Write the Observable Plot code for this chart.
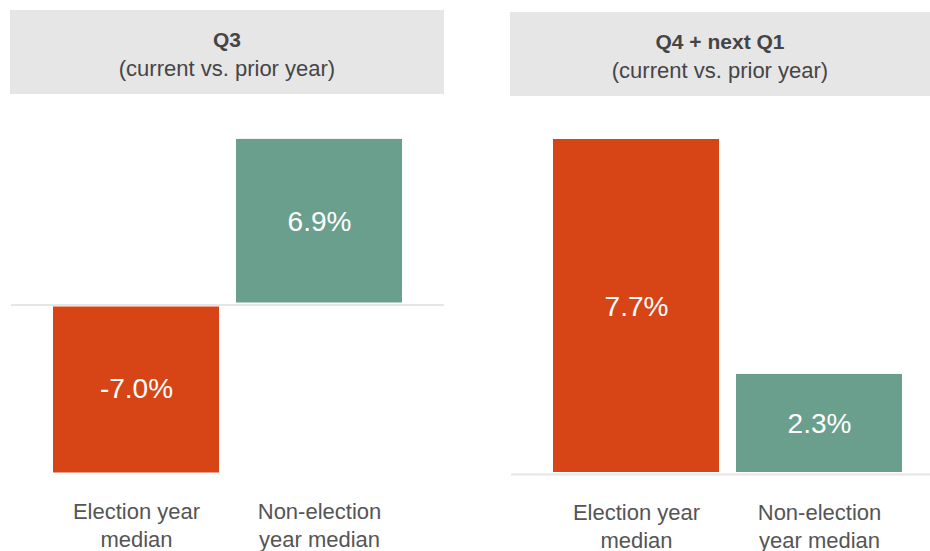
<!DOCTYPE html>
<html>
<head>
<meta charset="utf-8">
<script src="https://cdn.jsdelivr.net/npm/d3@7"></script>
<script src="https://cdn.jsdelivr.net/npm/@observablehq/plot@0.6"></script>
<style>
  html, body { margin: 0; padding: 0; background: #fff; }
  #root { position: relative; width: 930px; height: 551px; overflow: hidden; font-family: "Liberation Sans", Arial, sans-serif; }
  .panel { position: absolute; top: 0; }
  .hdr { position: absolute; left: 0; right: 0; height: 84px; background: #e6e6e6; color: #454545; text-align: center; }
  .hdr .t { position: absolute; left: 0; right: 0; top: 18px; font-size: 21px; font-weight: bold; line-height: 24px; }
  .hdr .s { position: absolute; left: 0; right: 0; top: 47px; font-size: 22px; line-height: 24px; }
  .chart { position: absolute; left: 0; top: 100px; }
</style>
</head>
<body>
<div id="root"></div>
<script>
const categories = ["Election year median", "Non-election year median"];
const categoryLabels = ["Election year\nmedian", "Non-election\nyear median"];
const panelTitles = ["Q3", "Q4 + next Q1"];
const panelSubtitles = ["(current vs. prior year)", "(current vs. prior year)"];
const q3Values = [-7.0, 6.9];
const q4NextQ1Values = [7.7, 2.3];
const barColors = ["#D74516", "#6A9F8E"];

const root = document.getElementById("root");

function panel({left, width, hdrTop, title, subtitle, values, yDomain, marginTop, marginBottom, marginRight}) {
  const div = document.createElement("div");
  div.className = "panel";
  div.style.left = left + "px";
  div.style.width = width + "px";
  div.style.height = "551px";
  const hdr = document.createElement("div");
  hdr.className = "hdr";
  hdr.style.top = hdrTop + "px";
  hdr.innerHTML = `<div class="t"></div><div class="s"></div>`;
  hdr.querySelector(".t").textContent = title;
  hdr.querySelector(".s").textContent = subtitle;
  div.appendChild(hdr);

  const data = categories.map((c, i) => ({category: c, value: values[i]}));
  const marginLeft = 43;
  const plot = Plot.plot({
    width,
    height: 451,
    marginLeft,
    marginRight,
    marginTop,
    marginBottom,
    style: {fontFamily: "Liberation Sans, Arial, sans-serif", fontSize: "22px", color: "#555", background: "transparent"},
    x: {domain: categories, paddingInner: 0.093, paddingOuter: 0, axis: null},
    y: {domain: yDomain, axis: null},
    color: {domain: categories, range: barColors},
    marks: [
      Plot.barY(data.filter(d => d.value >= 0), {x: "category", y: "value", fill: "category", insetBottom: 2}),
      Plot.barY(data.filter(d => d.value < 0), {x: "category", y: "value", fill: "category", insetTop: 2}),
      Plot.ruleY([0], {stroke: "#e6e6e6", strokeWidth: 2, insetLeft: -marginLeft + 1, insetRight: -marginRight}),
      Plot.text(data, {x: "category", y: d => d.value / 2, text: d => d.value.toFixed(1) + "%", fill: "white", fontSize: 28}),
      Plot.axisX({
        tickSize: 0,
        tickPadding: 26,
        lineHeight: 1.27,
        fill: "#555",
        label: null,
        tickFormat: c => categoryLabels[categories.indexOf(c)]
      })
    ]
  });
  plot.classList.add("chart");
  div.appendChild(plot);
  root.appendChild(div);
}

panel({left: 10, width: 434, hdrTop: 10, title: panelTitles[0], subtitle: panelSubtitles[0],
  values: q3Values, yDomain: [-7, 7], marginTop: 36.5, marginBottom: 78.5, marginRight: 42});
panel({left: 510, width: 420, hdrTop: 12, title: panelTitles[1], subtitle: panelSubtitles[1],
  values: q4NextQ1Values, yDomain: [0, 7.7], marginTop: 39, marginBottom: 77, marginRight: 28});
</script>
</body>
</html>
